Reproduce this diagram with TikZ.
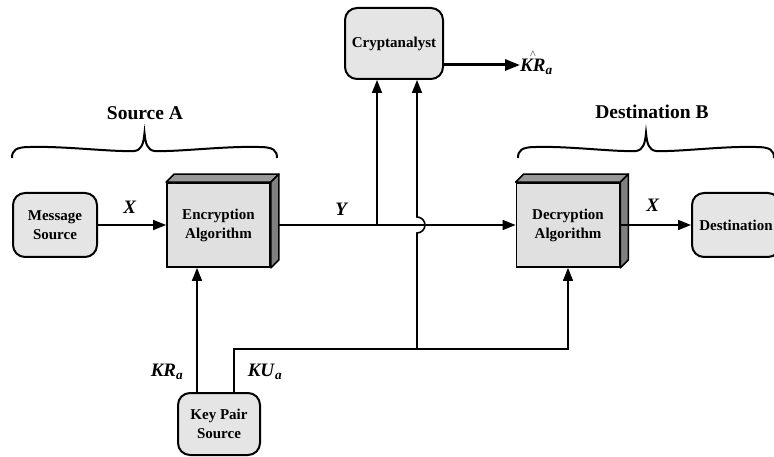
\documentclass[tikz,border=0pt]{standalone}
\usepackage{amsmath}
\usepackage{fontspec}
\setmainfont{Liberation Serif}
\usetikzlibrary{arrows.meta}

\newcommand{\bi}[1]{\textbf{\textit{#1}}}
% 3D faces of an algorithm box
\newcommand{\solidbox}[1]{%
  \filldraw[face top] (#1.north west) -- ++(8,-8) -- ([shift={(8,-8)}]#1.north east) -- (#1.north east) -- cycle;
  \filldraw[face side] (#1.north east) -- ([shift={(8,-8)}]#1.north east) -- ([shift={(8,-8)}]#1.south east) -- (#1.south east) -- cycle;
}
% curly brace: center x, half width, y of the ends
\newcommand{\curly}[3]{%
  \draw[brace line] (#1-#2,#3) .. controls (#1-#2,#3-8) and (#1-#2+4,#3-11) .. (#1-#2+18,#3-11)
    .. controls (#1-0.6*#2,#3-12) and (#1-0.25*#2,#3-6) .. (#1-10,#3-7)
    .. controls (#1-3,#3-8) and (#1-1,#3-14) .. (#1,#3-25)
    .. controls (#1+1,#3-14) and (#1+3,#3-8) .. (#1+10,#3-7)
    .. controls (#1+0.25*#2,#3-6) and (#1+0.6*#2,#3-12) .. (#1+#2-18,#3-11)
    .. controls (#1+#2-4,#3-11) and (#1+#2,#3-8) .. (#1+#2,#3);
}

\tikzset{
  unitbox/.style = {draw, rounded corners=12pt, line width=2pt, fill=black!10,
                    align=center, font=\bfseries\fontsize{15}{19}\selectfont},
  algbox/.style = {draw, line width=1.8pt, fill=black!12, minimum width=103pt,
                   minimum height=84pt, align=center, font=\bfseries\fontsize{15}{19}\selectfont},
  face top/.style = {fill=black!40, draw, line width=1.5pt, line join=round},
  face side/.style = {fill=black!50, draw, line width=1.5pt, line join=round},
  conn/.style = {line width=1.6pt, -{Triangle[length=13pt,width=10pt]}},
  heavy/.style = {line width=3pt, -{Triangle[length=15pt,width=11pt]}},
  brace line/.style = {line width=2pt},
  lbl/.style = {font=\fontsize{19}{21}\selectfont},
  head/.style = {font=\bfseries\fontsize{19.5}{22}\selectfont}
}

\begin{document}
\begin{tikzpicture}[x=1pt, y=-1pt]
	\useasboundingbox (0,0) rectangle (774,457);

	% Boxes
	\node[unitbox, minimum width=84pt, minimum height=64pt] (msgsrc) at (55,225) {Message\\Source};
	\node[algbox] (enc) at (218.5,225) {Encryption\\Algorithm};
	\node[unitbox, minimum width=98pt, minimum height=71pt] (crypt) at (394,43.5) {Cryptanalyst};
	\node[algbox] (dec) at (568,225) {Decryption\\Algorithm};
	\node[unitbox, minimum width=88pt, minimum height=64pt] (dest) at (736,225) {Destination};
	\node[unitbox, minimum width=82pt, minimum height=62pt] (keysrc) at (219,424) {Key Pair\\Source};
	\solidbox{enc}
	\solidbox{dec}

	% Headings and braces
	\node[head] (srca) at (145,113) {Source A};
	\node[head] (destb) at (652,112) {Destination B};
	\curly{144.5}{132.5}{158}
	\curly{646}{128}{158}

	% Helper points
	\coordinate (krx) at (197,0);
	\coordinate (kux) at (234,0);
	\coordinate (ytap) at (377,225);
	\coordinate (jump) at (417,225);
	\coordinate (kubus) at (417,349);

	% Message path
	\draw[conn] (msgsrc) -- (enc);
	\draw[conn] ([xshift=8pt]enc.east) -- (dec.west);
	\draw[conn] (dec.east) -- (dest.west);
	\draw[conn] (ytap) -- (ytap |- crypt.south);

	% Keys
	\draw[conn] (keysrc.north -| krx) -- (enc.south -| krx);
	\draw[conn] (keysrc.north -| kux) |- (kubus) -| (dec.south);
	\draw[conn] (kubus) -- ([yshift=-8pt]jump) arc[start angle=90, end angle=-90, radius=8] -- (jump |- crypt.south);

	% Cryptanalyst output
	\node[lbl, anchor=west, inner sep=1pt] (kra) at (519,62) {$\overset{\scriptscriptstyle\wedge}{\bi{KR}}_{\bi{a}}$};
	\coordinate (kratip) at (520,65);
	\draw[heavy] (crypt.east |- kratip) -- (kratip);

	% Labels
	\node[lbl] (xin) at (130,207) {\bi{X}};
	\node[lbl] (ylbl) at (342,209) {\bi{Y}};
	\node[lbl] (xout) at (653,205) {\bi{X}};
	\node[lbl] (krlbl) at (167,372) {\bi{KR}$_{\bi{a}}$};
	\node[lbl] (kulbl) at (265,372) {\bi{KU}$_{\bi{a}}$};
\end{tikzpicture}
\end{document}
